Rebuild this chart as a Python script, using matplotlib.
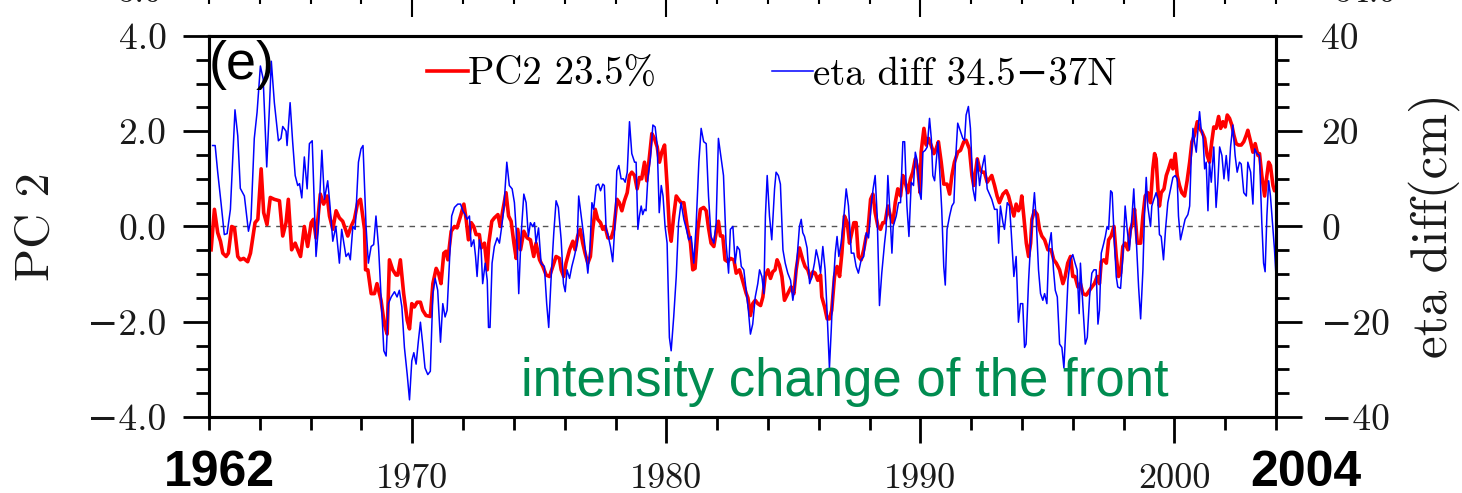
import numpy as np
import matplotlib
matplotlib.use("Agg")
import matplotlib.pyplot as plt
from matplotlib.lines import Line2D

RED, BLUE, GREEN, INK = "#ff0000", "#0000ff", "#008c50", "#1a1a1a"
SERIF = ["cmr10", "DejaVu Serif"]
SANS = ["Liberation Sans", "DejaVu Sans"]

# ---- data: years since Jan 1962 ------------------------------------------
pc2_yr = [0.08, 0.21, 0.34, 0.45, 0.54, 0.67, 0.76, 0.89, 1.00, 1.13, 1.23, 1.36, 1.52, 1.63,
          1.81, 1.92, 2.05, 2.15, 2.28, 2.41, 2.57, 2.77, 2.90, 3.03, 3.12, 3.25, 3.39, 3.49,
          3.60, 3.75, 3.88, 4.02, 4.11, 4.21, 4.38, 4.51, 4.65, 4.74, 4.87, 5.00, 5.13, 5.26,
          5.46, 5.59, 5.72, 5.85, 5.96, 6.12, 6.16, 6.25, 6.38, 6.51, 6.61, 6.77, 6.90, 7.01,
          7.10, 7.23, 7.36, 7.43, 7.53, 7.66, 7.80, 7.89, 7.98, 8.08, 8.19, 8.32, 8.41, 8.54,
          8.71, 8.81, 8.94, 9.03, 9.13, 9.24, 9.33, 9.40, 9.53, 9.66, 9.76, 9.90, 10.03, 10.12,
          10.21, 10.32, 10.42, 10.51, 10.64, 10.71, 10.84, 10.95, 11.01, 11.13, 11.23, 11.37,
          11.46, 11.56, 11.69, 11.79, 11.89, 12.00, 12.09, 12.15, 12.26, 12.39, 12.52, 12.65,
          12.78, 12.87, 13.01, 13.14, 13.27, 13.40, 13.53, 13.66, 13.79, 13.86, 13.96, 14.05,
          14.19, 14.32, 14.41, 14.51, 14.61, 14.71, 14.80, 14.91, 15.01, 15.10, 15.20, 15.30,
          15.41, 15.50, 15.59, 15.70, 15.83, 15.93, 16.06, 16.15, 16.25, 16.35, 16.46, 16.55,
          16.64, 16.75, 16.85, 16.94, 17.03, 17.14, 17.23, 17.34, 17.43, 17.53, 17.64, 17.73,
          17.82, 17.93, 18.03, 18.12, 18.19, 18.29, 18.39, 18.48, 18.58, 18.69, 18.82, 18.95,
          19.04, 19.13, 19.24, 19.34, 19.47, 19.57, 19.66, 19.76, 19.87, 19.96, 20.05, 20.13,
          20.22, 20.31, 20.42, 20.52, 20.66, 20.75, 20.88, 21.01, 21.14, 21.21, 21.31, 21.40,
          21.50, 21.60, 21.71, 21.80, 21.89, 22.00, 22.10, 22.19, 22.28, 22.36, 22.45, 22.55,
          22.65, 22.78, 22.91, 23.02, 23.11, 23.24, 23.37, 23.46, 23.57, 23.67, 23.77, 23.86,
          23.96, 24.07, 24.12, 24.23, 24.33, 24.42, 24.51, 24.62, 24.72, 24.82, 24.91, 25.01,
          25.12, 25.21, 25.30, 25.38, 25.47, 25.56, 25.67, 25.77, 25.87, 25.93, 26.04, 26.13,
          26.22, 26.33, 26.43, 26.52, 26.61, 26.72, 26.82, 26.92, 27.01, 27.11, 27.22, 27.31,
          27.40, 27.51, 27.61, 27.70, 27.80, 27.90, 27.99, 28.03, 28.14, 28.23, 28.32, 28.42,
          28.53, 28.62, 28.71, 28.82, 28.92, 29.05, 29.15, 29.24, 29.34, 29.47, 29.58, 29.71,
          29.80, 29.93, 30.03, 30.10, 30.24, 30.33, 30.43, 30.52, 30.63, 30.72, 30.81, 30.92,
          31.02, 31.11, 31.25, 31.38, 31.47, 31.57, 31.68, 31.77, 31.86, 31.94, 31.99, 32.07,
          32.17, 32.26, 32.34, 32.39, 32.49, 32.60, 32.69, 32.78, 32.89, 33.02, 33.15, 33.25,
          33.35, 33.48, 33.61, 33.70, 33.80, 33.91, 34.00, 34.09, 34.20, 34.30, 34.40, 34.53,
          34.66, 34.75, 34.85, 34.96, 35.05, 35.12, 35.22, 35.32, 35.41, 35.51, 35.62, 35.71,
          35.80, 35.88, 35.97, 36.06, 36.17, 36.27, 36.36, 36.43, 36.54, 36.67, 36.76, 36.85,
          36.95, 37.06, 37.15, 37.22, 37.28, 37.35, 37.41, 37.48, 37.59, 37.68, 37.77, 37.87,
          37.94, 38.03, 38.11, 38.20, 38.29, 38.40, 38.50, 38.60, 38.69, 38.79, 38.90, 38.99,
          39.08, 39.19, 39.29, 39.38, 39.47, 39.55, 39.64, 39.74, 39.82, 39.91, 40.00, 40.08,
          40.17, 40.26, 40.34, 40.43, 40.52, 40.63, 40.73, 40.83, 40.89, 41.00, 41.09, 41.18,
          41.29, 41.35, 41.44, 41.55, 41.64, 41.71, 41.78, 41.88, 41.94, 42.00]
pc2 = [-0.49, 0.36, -0.13, -0.31, -0.56, -0.63, -0.56, 0.00, -0.03, -0.63, -0.70, -0.67, -0.74, -0.56,
       0.08, 0.15, 1.21, 0.29, 0.04, 0.61, 0.57, 0.54, -0.20, 0.08, 0.57, -0.49, -0.35, -0.49,
       -0.63, 0.00, -0.42, 0.08, 0.15, -0.24, 0.68, 0.47, 0.64, 0.22, -0.06, 0.33, 0.18, 0.11,
       -0.20, 0.00, 0.15, 0.50, 0.57, -0.06, -0.91, -0.91, -1.41, -1.41, -1.20, -1.55, -2.05, -2.26,
       -0.70, -0.91, -1.02, -1.02, -0.70, -1.41, -1.97, -2.15, -1.62, -1.69, -1.59, -1.59, -1.76, -1.87,
       -1.89, -1.20, -0.88, -0.98, -1.20, -0.56, -0.52, -0.70, -0.10, 0.00, -0.03, 0.22, 0.47, 0.15,
       -0.28, 0.08, 0.00, -0.17, -0.17, -0.45, -0.35, -0.91, -0.35, 0.11, 0.18, 0.25,
       0.00, 0.33, 0.71, 0.22, 0.11, -0.35, -0.67, -0.06, -0.49, -0.10, -0.24, -0.28,
       -0.63, -0.35, -0.70, -0.84, -1.02, -1.05, -0.84, -0.63, -0.67, -0.91, -1.05, -0.77,
       -0.49, -0.31, -0.49, -0.20, -0.06, -0.35, -0.56, -0.77, -0.63, -0.06, 0.36, 0.15,
       0.08, -0.06, 0.00, -0.24, -0.24, -0.06, 0.57, 0.50, 0.33, 0.54, 0.71, 1.07,
       1.14, 1.07, 0.79, 1.03, 1.00, 1.35, 0.96, 1.49, 1.95, 1.85, 1.67, 1.35,
       1.56, 1.71, 0.86, -0.06, -0.31, 0.22, 0.64, 0.57, 0.50, 0.50, 0.00, -0.35,
       -0.91, -0.88, -0.06, 0.36, 0.40, 0.33, -0.03, -0.35, -0.42, -0.13, 0.11, -0.20,
       -0.20, -0.70, -0.74, -0.67, -0.70, -0.98, -0.91, -1.15, -1.40, -1.50, -1.87, -1.62,
       -1.55, -1.62, -1.66, -1.48, -1.05, -0.91, -1.09, -0.95, -0.91, -0.70, -0.81, -1.05,
       -1.55, -1.41, -1.27, -1.41, -0.91, -0.45, -0.70, -0.84, -0.91, -1.09, -0.95, -0.98,
       -1.13, -1.02, -1.48, -1.69, -1.94, -1.94, -1.76, -1.05, -0.84, -1.05, -0.56, 0.22,
       0.08, -0.35, -0.13, 0.08, 0.08, -0.63, -0.70, -0.49, -0.20, -0.13, 0.57, 0.68,
       0.29, 0.00, -0.06, 0.08, 0.08, 0.43, 0.22, 0.08, 0.50, 0.79, 0.64, 1.07,
       0.93, 0.71, 1.00, 1.14, 1.42, 1.21, 0.71, 1.56, 2.06, 1.71, 1.85, 1.71,
       1.53, 1.63, 1.78, 1.35, 0.89, 0.89, 0.68, 1.07, 1.35, 1.56, 1.60, 1.78,
       1.81, 1.63, 1.07, 0.86, 1.42, 1.21, 1.14, 1.14, 0.93, 1.00, 1.07, 0.86,
       0.64, 0.50, 0.68, 0.75, 0.64, 0.43, 0.22, 0.47, 0.33, 0.43, 0.64, 0.22,
       -0.35, -0.63, -0.35, 0.15, 0.33, 0.25, -0.06, -0.20, -0.28, -0.49, -0.49, -0.70,
       -0.77, -0.91, -1.20, -1.05, -0.77, -0.63, -1.05, -1.05, -1.27, -1.20, -1.41, -1.44,
       -1.34, -1.27, -1.20, -1.05, -1.20, -0.74, -0.70, -0.77, -0.28, -0.20, 0.00, -0.63,
       -1.05, -0.98, -0.42, -0.35, -0.49, -0.06, 0.08, 0.36, -0.35, -0.35, 0.22, 0.64,
       0.71, 0.50, 1.21, 1.53, 1.42, 0.79, 0.43, 0.71, 0.79, 1.07, 1.21, 1.39,
       1.21, 1.53, 1.07, 0.86, 0.71, 0.64, 0.96, 1.35, 1.78, 1.92, 2.20, 2.06,
       1.99, 1.85, 1.49, 1.35, 1.78, 2.09, 2.06, 2.31, 2.06, 2.20, 2.09, 2.34,
       2.27, 2.13, 1.92, 1.74, 1.71, 1.71, 1.78, 1.92, 2.02, 1.78, 1.56, 1.74,
       1.49, 1.53, 1.07, 0.64, 1.07, 1.35, 1.28, 0.86, 0.75, 0.79]

eta_yr = [0.14, 0.24, 0.34, 0.47, 0.60, 0.71, 0.84, 1.02, 1.13, 1.23, 1.39, 1.55, 1.65, 1.78,
          1.89, 2.02, 2.13, 2.27, 2.38, 2.45, 2.57, 2.73, 2.83, 2.90, 3.03, 3.07, 3.19, 3.29,
          3.39, 3.49, 3.56, 3.65, 3.75, 3.86, 3.95, 4.06, 4.21, 4.30, 4.44, 4.54, 4.67, 4.75,
          4.87, 4.99, 5.13, 5.22, 5.39, 5.49, 5.56, 5.66, 5.75, 5.88, 5.98, 6.06, 6.18, 6.27,
          6.38, 6.48, 6.57, 6.67, 6.77, 6.88, 6.97, 7.06, 7.17, 7.30, 7.40, 7.49, 7.59, 7.69,
          7.80, 7.89, 7.98, 8.06, 8.15, 8.24, 8.32, 8.41, 8.50, 8.61, 8.71, 8.81, 8.90, 9.00,
          9.11, 9.20, 9.29, 9.37, 9.46, 9.55, 9.66, 9.79, 9.90, 9.99, 10.08, 10.16, 10.25, 10.32,
          10.42, 10.49, 10.55, 10.64, 10.71, 10.77, 10.87, 10.95, 11.00, 11.06, 11.14, 11.23,
          11.34, 11.43, 11.52, 11.60, 11.72, 11.82, 11.93, 12.02, 12.13, 12.19, 12.28, 12.39,
          12.48, 12.57, 12.65, 12.74, 12.81, 12.87, 12.97, 13.07, 13.20, 13.29, 13.37, 13.46,
          13.57, 13.66, 13.75, 13.86, 13.95, 14.02, 14.09, 14.19, 14.28, 14.38, 14.49, 14.55,
          14.65, 14.75, 14.84, 14.91, 14.99, 15.07, 15.14, 15.24, 15.33, 15.41, 15.50, 15.56,
          15.63, 15.70, 15.80, 15.89, 15.98, 16.05, 16.13, 16.22, 16.31, 16.38, 16.46, 16.55,
          16.64, 16.75, 16.81, 16.88, 16.94, 17.01, 17.07, 17.14, 17.20, 17.27, 17.37, 17.47,
          17.56, 17.64, 17.72, 17.80, 17.87, 17.95, 18.03, 18.12, 18.19, 18.29, 18.39, 18.48,
          18.58, 18.69, 18.79, 18.88, 18.98, 19.08, 19.17, 19.28, 19.37, 19.47, 19.57, 19.66,
          19.76, 19.87, 19.96, 20.05, 20.16, 20.25, 20.35, 20.45, 20.52, 20.62, 20.71, 20.79,
          20.88, 20.95, 21.05, 21.14, 21.23, 21.31, 21.40, 21.50, 21.60, 21.67, 21.76, 21.84,
          21.90, 21.97, 22.06, 22.15, 22.26, 22.32, 22.41, 22.49, 22.59, 22.68, 22.78, 22.89,
          22.98, 23.07, 23.18, 23.24, 23.31, 23.37, 23.44, 23.54, 23.64, 23.73, 23.83, 23.90,
          23.99, 24.07, 24.16, 24.25, 24.33, 24.42, 24.49, 24.55, 24.65, 24.72, 24.79, 24.88,
          24.99, 25.08, 25.17, 25.28, 25.38, 25.47, 25.56, 25.67, 25.77, 25.87, 25.96, 26.06,
          26.14, 26.22, 26.30, 26.39, 26.48, 26.59, 26.65, 26.72, 26.81, 26.88, 26.93, 27.05,
          27.14, 27.22, 27.31, 27.38, 27.47, 27.55, 27.64, 27.73, 27.80, 27.87, 27.97, 28.03,
          28.10, 28.19, 28.27, 28.36, 28.43, 28.49, 28.56, 28.62, 28.69, 28.75, 28.84, 28.92,
          28.98, 29.05, 29.15, 29.24, 29.32, 29.38, 29.47, 29.58, 29.67, 29.74, 29.80, 29.89,
          29.97, 30.07, 30.16, 30.24, 30.33, 30.42, 30.53, 30.63, 30.72, 30.81, 30.92, 31.02,
          31.08, 31.15, 31.25, 31.31, 31.42, 31.51, 31.57, 31.68, 31.77, 31.86, 31.94, 32.03,
          32.10, 32.16, 32.26, 32.34, 32.43, 32.49, 32.56, 32.65, 32.73, 32.82, 32.89, 32.98,
          33.06, 33.15, 33.24, 33.31, 33.39, 33.48, 33.57, 33.65, 33.74, 33.81, 33.90, 34.00,
          34.09, 34.17, 34.25, 34.30, 34.40, 34.49, 34.57, 34.66, 34.75, 34.83, 34.92, 34.99,
          35.05, 35.12, 35.22, 35.28, 35.35, 35.41, 35.49, 35.55, 35.62, 35.71, 35.77, 35.88,
          35.97, 36.06, 36.14, 36.23, 36.33, 36.40, 36.50, 36.59, 36.67, 36.76, 36.82, 36.89,
          36.95, 37.06, 37.11, 37.19, 37.28, 37.35, 37.41, 37.48, 37.57, 37.65, 37.74, 37.85,
          37.94, 38.03, 38.11, 38.16, 38.24, 38.33, 38.42, 38.53, 38.60, 38.66, 38.73, 38.79,
          38.86, 38.92, 38.99, 39.05, 39.12, 39.19, 39.25, 39.32, 39.38, 39.45, 39.55, 39.64,
          39.71, 39.78, 39.87, 39.95, 40.04, 40.13, 40.21, 40.30, 40.39, 40.47, 40.56, 40.63,
          40.73, 40.83, 40.89, 41.00, 41.09, 41.16, 41.25, 41.35, 41.44, 41.51, 41.57, 41.64,
          41.71, 41.78, 41.88, 41.94, 42.00]
eta = [17, 17, 11.4, 5, -1.7, -1.5, 3.6, 24.5, 19, 8, 6.4, -1, 1.5, 18.5,
       24, 33.7, 31, 12.5, 25.5, 34.7, 26, 18, 18.5, 21, 20, 17, 26, 17.8,
       10.7, 8.6, 9, 6, 14.6, 7.9, 17.4, 18, -6.3, -0.6, 16, 5.7, 9.6, 5,
       -3.1, 0, -7.7, -0.6, -6.3, -5.6, -7, 0, -0.6, 13.5, 16.3, 17, 0, -7.7,
       -4.2, -3.8, 2.2, -4.2, -14.8, -26.1, -27.2, -16.2, -14.8, -13.7, -14.8, -13.4, -16.9, -25.4,
       -31.1, -36.4, -28.2, -26.5, -28.9, -24, -20.1, -24.7, -29.7, -31.1, -30.4, -14.1, -10.9, -13.4,
       -24.3, -16.2, -19, -17.6, -7.7, 2.2, 4, 4.7, 4.7, 3.3, 2.5, 1.5, 2.2, -4.2,
       -2.8, -6.3, -10.5, -2.8, -4.9, -12, -7.7, -11.3, -21.2, -21.2, -7.7, -4.2,
       -2.4, -3.5, 0, 3.6, 13.5, 8.6, 7.9, 5, -4.2, -14.1, -2.1, 6.8,
       5, -2.1, 0.8, 0, 0.8, -3.5, -0.3, -7.7, -8.4, -16.2, -21.2, -11.3,
       -1.3, 5.4, 4, -2.8, -12, -13.7, -9.1, -10.9, -8.4, -6.3, -3.5, 6.4,
       2.2, -2.1, -6.3, -9.8, -4.9, 5, 3.6, 8.6, 8.9, 7.5, 8.9, 8.6,
       -0.6, -1.7, -4.2, -7.4, 0.8, 11.7, 12.8, 10, 10, 9.3, 11.4, 22,
       15.3, 13.5, 13.5, -0.6, 2.2, 4.3, 2.5, 3.6, 3.3, 10, 14.2, 21.3,
       20.9, 17.1, 2.9, 8.6, 6.4, 0, -3.5, -23.3, -26.1, -19, -10.5, 0.8,
       5, 1.5, -0.6, -2.8, -2.1, -7.7, 0, 13.5, 20.6, 17.8, 17.4, 6.4,
       -2.1, -3.5, 0.8, 18.5, 14.2, 10.7, -3.5, -9.8, -0.6, 0, -7.7, -4.2,
       -4.9, -8.4, -9.1, -13.4, -17.6, -22.6, -20.5, -14.8, -12, -9.1, -10.5, -14.1,
       2.2, 10.7, 2.2, -2.8, 7.9, 11.4, 10.7, 8.9, -4.9, -7.7, -9.8, -11.3,
       -15.5, -12, -4.2, 0, 1.5, -1.3, -2.1, -4.5, -12, -10.5, -7.7, -4.9,
       -7, -9.8, -4.2, -9.1, -18.3, -29.7, -21.9, -14.1, -5.6, -2.1, -6.3, -3.5,
       2.2, 7.9, 4.3, -5.6, -5.6, -8.4, -9.8, -7, -6.3, -1.3, -2.4, 4.3,
       7.9, 10.7, 2.2, -16.6, -9.8, -3.5, -0.6, 10.7, 2.2, -5.6, 0, 2.2,
       5, 5, 17.8, 17.8, 4.3, -2.1, 9.3, 8.6, 15.6, 13.9, 7.1, 5.7,
       15.6, 16, 16.7, 22.7, 18.5, 10.7, 9.6, 13.5, 17.8, 12.8, 3.6, -8.4,
       -12.3, -0.6, 2.2, 4.3, 5, 13.5, 21.7, 19.9, 18.5, 18.1, 23.4, 25.2,
       20.6, 7.9, 5.4, 14.2, 8.6, 12.1, 14.9, 7.9, 6.8, 5.7, 3.6, 3.6,
       -3.5, 4.3, 0.8, -0.6, 5, 4.3, -0.6, -10.5, -6.3, -20.1, -16.2, -16.2,
       -25.4, -24.7, -11.3, -3.5, 3.3, 7.1, 1.5, -9.1, -14.1, -15.5, -14.1, -16.2,
       -4.2, -1.3, -9.1, -13.4, -14.8, -24.7, -25.4, -29.7, -19.7, -11.3, -7, -5.9,
       -7.7, -9.1, -18.3, -7.7, -16.9, -24.7, -23.3, -14.8, -9.8, -9.1, -9.1, -20.5,
       -17.6, -5.6, -3.5, -2.1, 0, -0.6, 7.5, 7.1, -1.3, -10.5, -12.7, -13,
       -6.3, 4.3, -0.6, -4.9, 2.2, 7.9, -2.8, -12.7, -19.4, -9.1, 2.2, 10.3,
       4.3, 0, 4.3, 5.7, 7.1, 5.7, -1.7, -2.1, -7, -0.6, 5, 7.9,
       10.3, 10.7, 10, 2.2, -2.8, -0.6, 1.5, 2.5, 4.3, 14.2, 20.6, 17.8,
       15.6, 19.9, 24.1, 20.6, 19.1, 12.1, 13.5, 3.3, 13.5, 9.3, 16.7, 4,
       9.3, 16.7, 14.9, 10, 14.9, 9.6, 16.7, 21.3, 14.9, 11.4, 13.5, 13.1,
       7.1, 6.4, 13.5, 11.4, 4.7, 16.3, 15.3, 14.9, 0.8, -7.7, -9.5, 2.2,
       9.6, 6.4, -0.6, -4.9, -10.5]

major_years = [1970, 1980, 1990, 2000]
minor_years = list(range(1962, 2005, 2))
pc_ticks = [-4, -2, 0, 2, 4]
pc_labels = ["\u22124.0", "\u22122.0", "0.0", "2.0", "4.0"]
eta_ticks = [-40, -20, 0, 20, 40]
eta_labels = ["\u221240", "\u221220", "0", "20", "40"]

# ---- figure --------------------------------------------------------------
fig = plt.figure(figsize=(14.62, 4.93), dpi=100)
L, B, W, H = 0.1430, 0.1542, 0.7298, 0.7728
ax = fig.add_axes([L, B, W, H])
ax.set_xlim(1962, 2004)
ax.set_ylim(-4, 4)
ax.axhline(0, color="#555555", lw=1.0, ls=(0, (4, 4)), zorder=1)
ax.plot(1962 + np.array(pc2_yr), pc2, color=RED, lw=2.6, zorder=3)

ax2 = ax.twinx()
ax2.set_ylim(-40, 40)
ax2.plot(1962 + np.array(eta_yr), eta, color=BLUE, lw=1.1)

for a in (ax, ax2):
    for s in a.spines.values():
        s.set_linewidth(2.2)

ax.set_xticks(major_years)
ax.set_xticks(minor_years, minor=True)
ax.set_xticklabels([str(y) for y in major_years], fontsize=26, family=SERIF, color=INK)
ax.set_yticks(pc_ticks)
ax.set_yticks(np.arange(-4, 4.01, 0.5), minor=True)
ax.set_yticklabels(pc_labels, fontsize=27, family=SERIF, color=INK)
ax.tick_params(which="both", direction="out", width=2.0, top=False, right=False)
ax.tick_params(which="major", length=18.7)
ax.tick_params(which="minor", length=9.4)
ax.tick_params(axis="x", which="major", pad=15)
ax.tick_params(axis="y", which="major", pad=12)

ax2.set_yticks(eta_ticks)
ax2.set_yticks(np.arange(-40, 41, 5), minor=True)
ax2.set_yticklabels(eta_labels, fontsize=27, family=SERIF, color=INK)
ax2.tick_params(which="both", direction="out", width=2.0)
ax2.tick_params(which="major", length=18.7, pad=14)
ax2.tick_params(which="minor", length=9.4)

handles = [Line2D([], [], color=RED, lw=2.6), Line2D([], [], color=BLUE, lw=1.1)]
ax2.legend(handles, ["PC2 23.5%", "eta diff 34.5\u221237N"], loc="center left",
           bbox_to_anchor=(0.204, 0.898), ncol=2, frameon=False, handlelength=1.05,
           handletextpad=0.0, columnspacing=3.0, borderpad=0, borderaxespad=0,
           prop={"family": SERIF, "size": 28})

ax2.text(0.0, 0.99, "(e)", transform=ax.transAxes, ha="left", va="top",
         fontsize=39, family=SANS, color="black")
ax2.text(0.292, 0.055, "intensity change of the front", transform=ax.transAxes,
         ha="left", va="baseline", fontsize=38, family=SANS, color=GREEN)

# end-year labels and axis titles
fig.text(164 / 1462, 1 - 486 / 493, "1962", ha="left", va="baseline",
         fontsize=36, weight="bold", family=SANS)
fig.text(1250 / 1462, 1 - 486 / 493, "2004", ha="left", va="baseline",
         fontsize=36, weight="bold", family=SANS)
fig.text(37 / 1462, 1 - 227 / 493, "PC 2", rotation=90, ha="center", va="center",
         fontsize=35, family=SERIF, color=INK)
fig.text(1434 / 1462, 1 - 226 / 493, "eta diff(cm)", rotation=90, ha="center",
         va="center", fontsize=37, family=SERIF, color=INK)

# bottom edge of the panel above, cut off by the frame
axt = fig.add_axes([L, 1 + 9 / 493, W, 0.2])
axt.set_xlim(1962, 2004)
axt.patch.set_visible(False)
for s in axt.spines.values():
    s.set_visible(False)
axt.set_xticks(major_years)
axt.set_xticks(minor_years, minor=True)
axt.set_yticks([])
axt.tick_params(which="both", direction="out", width=1.5, labelbottom=False)
axt.tick_params(which="major", length=18.7)
axt.tick_params(which="minor", length=9.4)
fig.text(140 / 1462, 1 + 7 / 493, "3.0", ha="center", va="center",
         fontsize=25, family=SERIF, color=INK)
fig.text(1365 / 1462, 1 + 7 / 493, "34.0", ha="center", va="center",
         fontsize=25, family=SERIF, color=INK)

fig.savefig("out.png", dpi=100)
